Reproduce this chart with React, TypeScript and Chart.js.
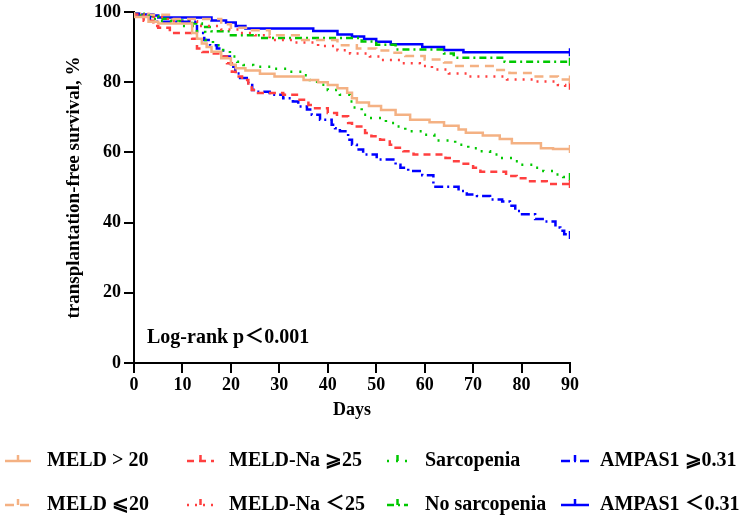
import React, { useEffect, useRef } from 'react';
import { Chart, registerables } from 'chart.js';

Chart.register(...registerables);

const SERIF = '"Times New Roman", "Liberation Serif", "Noto Sans CJK SC", serif';

// ---------- data ----------
const xAxisTitle = 'Days';
const yAxisTitle = 'transplantation-free survival, %';
const annotationText = 'Log-rank p＜0.001';

const seriesLabels = [
  'MELD > 20',
  'MELD-Na ⩾25',
  'Sarcopenia',
  'AMPAS1 ⩾0.31',
  'MELD ⩽20',
  'MELD-Na ＜25',
  'No sarcopenia',
  'AMPAS1 ＜0.31',
];

// [day, survival %]
const meldHigh = [
  [0, 100], [3, 98.6], [5, 97.2], [12, 96.7], [13, 94], [14, 92.4], [15, 91], [16, 90], [18, 88.7],
  [20, 86.8], [21, 85], [23, 84], [26, 83.3], [29, 82.4], [35, 81.6], [38, 80.6], [40, 80], [42, 79.2],
  [44, 78.3], [45, 77], [46, 75.4], [48.5, 74.2], [51, 73.2], [54, 72.1], [57, 70.7], [61, 69.3],
  [64, 68.6], [67, 67.6], [68.5, 66.5], [72, 65.6], [75.5, 64.8], [78, 63.8], [84, 62.6], [86.5, 61.2], [90, 61],
];
const meldNaHigh = [
  [0, 100], [2, 99.3], [4, 97.5], [5, 96], [7.4, 95.5], [12, 94], [13, 92.4], [14.1, 89.6], [15.7, 88.6],
  [17.8, 88.2], [19.2, 87.3], [20.2, 85.4], [21, 83], [22.3, 81.6], [23.6, 80.6], [24.3, 79.2], [25.6, 77.8],
  [30.8, 76.9], [33.9, 76.4], [36, 75], [37, 73.5], [40, 72.6], [41.9, 71.2], [44.2, 70.3], [45, 68.4],
  [47.7, 67.4], [49, 65.5], [50.8, 64.6], [52.8, 63.6], [54, 62.2], [55.6, 61.3], [57.7, 60.3], [64.3, 59.4],
  [65.5, 58.4], [67.3, 57.5], [70, 56.8], [71.5, 55.6], [76.8, 54.5], [79, 53.3], [81.3, 52.6], [85.2, 51.8],
  [87.4, 51], [90, 51],
];
const sarcopenia = [
  [0, 100], [3, 99], [5, 98], [10, 97.4], [13, 96], [14.7, 94.3], [16.3, 92], [18.4, 90.5], [19.8, 89.1],
  [21.3, 87.3], [22.6, 85.8], [24.6, 84.9], [29, 84.4], [31.6, 83.8], [35, 83], [36.3, 82], [37.8, 80.6],
  [40, 79.3], [42.5, 77.8], [44.6, 76.4], [45.3, 74.5], [47, 72.8], [48, 70.7], [52, 69.8], [54.3, 68.4],
  [56, 67.4], [59.7, 66], [62, 65], [66.3, 63.4], [69, 62.2], [71.5, 61.2], [73.5, 60.3], [75.5, 59.4],
  [78.2, 58.4], [79.7, 57.5], [82.4, 56.5], [84.5, 55.6], [87, 54.7], [88.6, 53.7], [90, 53],
];
const ampasHigh = [
  [0, 100], [1, 99.5], [3.3, 98.6], [13, 97.2], [14.5, 94], [15.7, 92], [17.1, 90.5], [18.4, 89.6],
  [19.8, 87.3], [20.5, 85.4], [20.9, 84.4], [21.9, 82.5], [23.6, 81.2], [24.4, 79.8], [25, 77.8], [28, 77.3],
  [30.8, 76.4], [32.8, 75.4], [33.9, 74.5], [35.7, 73.1], [36.7, 72.2], [38.4, 70.7], [40.8, 69.3],
  [41.5, 67.9], [42.5, 66.9], [44.2, 66], [45, 63.6], [46, 62.2], [47.3, 60.8], [50.1, 59.4], [54, 58],
  [55, 56.5], [56.6, 55.6], [59.5, 54.7], [61.8, 53.5], [67, 50.2], [68.7, 49], [70.8, 48], [73.5, 47.6],
  [76, 46.6], [77.6, 46], [78.7, 44.8], [80.1, 43.3], [82.8, 42.4], [84.9, 41], [87, 40.3], [88, 38.6],
  [88.8, 37.7], [89.6, 36.7], [90, 36.5],
];
const meldLow = [
  [0, 100], [3, 99.5], [8, 99.2], [18, 98], [20, 96.5], [24, 95.5], [28, 94.8], [34, 93.4], [42, 92],
  [46, 90.5], [50, 89.6], [53, 89], [56, 88.4], [60, 87.5], [64, 86.5], [66, 85.6], [75, 84.6], [77.5, 83.5],
  [82.5, 82.6], [87.5, 81.6], [89, 80.8], [90, 80.8],
];
const meldNaLow = [
  [0, 100], [4, 99], [7, 98.6], [13, 97.4], [18, 96], [22, 95], [25, 94], [28, 93.4], [33, 92], [38, 91.3],
  [42, 90.3], [44.6, 89.1], [48.7, 88.2], [51, 87.3], [55, 86.3], [59, 85.4], [61.5, 84.6], [65, 83.6],
  [69, 82.5], [77, 81.6], [82.4, 80.8], [87.5, 80.2], [89, 79.2], [90, 79],
];
const noSarcopenia = [
  [0, 100], [2, 99.5], [5, 98.8], [7, 98.1], [12, 97.6], [14, 96.7], [16, 95.7], [20, 94.5], [26, 93.4],
  [47, 92.6], [50, 91.6], [54, 90.7], [64, 89.3], [66, 88.2], [76.5, 87], [78, 85.8], [90, 85.8],
];
const ampasLow = [
  [0, 100], [4, 99.3], [5, 99], [16, 98.4], [19, 97.6], [21, 97], [23, 96], [37, 95.3], [42, 94.6],
  [45, 93.6], [47.5, 93], [50, 92.3], [53, 91.5], [59.5, 90.8], [64, 90], [68, 89.2], [76, 88.5], [90, 88.5],
];

const seriesData = [meldHigh, meldNaHigh, sarcopenia, ampasHigh, meldLow, meldNaLow, noSarcopenia, ampasLow];

// ---------- styles ----------
const ORANGE = 'rgb(244,177,131)';
const RED = 'rgb(255,64,64)';
const GREEN = 'rgb(0,200,0)';
const BLUE = 'rgb(0,0,255)';
const seriesColors = [ORANGE, RED, GREEN, BLUE, ORANGE, RED, GREEN, BLUE];
const seriesDashes: number[][] = [
  [],
  [7, 5],
  [2, 7],
  [9, 4, 2, 4],
  [9, 6],
  [2, 6],
  [7, 4, 2, 4],
  [],
];

const legendRowY = [461, 505];
const legendSampleX = [[5, 31], [187, 214], [387, 408], [561, 589]];
const legendTextX = [47, 229, 425, 600];

const legendPlugin = {
  id: 'gridLegend',
  afterDraw(chart: any) {
    const ctx = chart.ctx as CanvasRenderingContext2D;
    ctx.save();
    chart.data.datasets.forEach((ds: any, i: number) => {
      const col = i % 4;
      const row = Math.floor(i / 4);
      const y = legendRowY[row];
      const [x0, x1] = legendSampleX[col];
      ctx.strokeStyle = ds.borderColor;
      ctx.lineWidth = ds.borderWidth;
      ctx.setLineDash(ds.borderDash || []);
      ctx.beginPath();
      ctx.moveTo(x0, y);
      ctx.lineTo(x1, y);
      ctx.stroke();
      ctx.setLineDash([]);
      const xm = (x0 + x1) / 2;
      ctx.beginPath();
      ctx.moveTo(xm, y);
      ctx.lineTo(xm, y - 6);
      ctx.stroke();
      ctx.fillStyle = '#000';
      ctx.font = `bold 20px ${SERIF}`;
      ctx.textBaseline = 'middle';
      ctx.textAlign = 'left';
      ctx.fillText(ds.label, legendTextX[col], y);
    });
    ctx.font = `bold 20px ${SERIF}`;
    ctx.textBaseline = 'alphabetic';
    ctx.fillStyle = '#000';
    ctx.fillText(annotationText, 147, 343);
    ctx.restore();
  },
};

export default function App() {
  const ref = useRef<HTMLCanvasElement | null>(null);

  useEffect(() => {
    if (!ref.current) return;
    const datasets = seriesData.map((pts, i) => ({
      label: seriesLabels[i],
      data: pts.map(([x, y]) => ({ x, y })),
      borderColor: seriesColors[i],
      backgroundColor: seriesColors[i],
      borderWidth: 2.5,
      borderDash: seriesDashes[i],
      stepped: 'after' as const,
      fill: false,
      pointStyle: 'line' as const,
      rotation: 90,
      pointBorderWidth: 2.5,
      pointBorderColor: seriesColors[i],
      pointRadius: (c: any) => (c.dataIndex === pts.length - 1 ? 4 : 0),
      pointHoverRadius: 0,
    }));

    const chart = new Chart(ref.current, {
      type: 'line',
      data: { datasets },
      plugins: [legendPlugin],
      options: {
        animation: false,
        responsive: false,
        devicePixelRatio: 1,
        layout: { padding: { top: 10, right: 179, bottom: 101, left: 0 } },
        plugins: {
          legend: { display: false },
          tooltip: { enabled: false },
        },
        scales: {
          x: {
            type: 'linear',
            min: 0,
            max: 90,
            afterFit: (s: any) => { s.height = 60; },
            ticks: {
              stepSize: 10,
              color: '#000',
              padding: 2,
              maxRotation: 0,
              font: { family: SERIF, size: 18, weight: 'bold' },
            },
            grid: { drawOnChartArea: false, drawTicks: true, tickLength: 10, color: '#000', lineWidth: 2 },
            border: { display: true, color: '#000', width: 2 },
            title: {
              display: true,
              text: xAxisTitle,
              color: '#000',
              font: { family: SERIF, size: 18, weight: 'bold' },
              padding: { top: 0, bottom: 2 },
            },
          },
          y: {
            type: 'linear',
            min: 0,
            max: 100,
            afterFit: (s: any) => { s.width = 134; },
            ticks: {
              stepSize: 20,
              color: '#000',
              padding: 3,
              font: { family: SERIF, size: 18, weight: 'bold', lineHeight: 1 },
            },
            grid: { drawOnChartArea: false, drawTicks: true, tickLength: 10, color: '#000', lineWidth: 2 },
            border: { display: true, color: '#000', width: 2 },
            title: {
              display: true,
              text: yAxisTitle,
              color: '#000',
              font: { family: SERIF, size: 19, weight: 'bold' },
              padding: { top: 63, bottom: 0 },
            },
          },
        },
      },
    });
    return () => chart.destroy();
  }, []);

  return (
    <canvas
      ref={ref}
      width={749}
      height={524}
      style={{ position: 'absolute', left: 0, top: 0, width: 749, height: 524 }}
    />
  );
}
